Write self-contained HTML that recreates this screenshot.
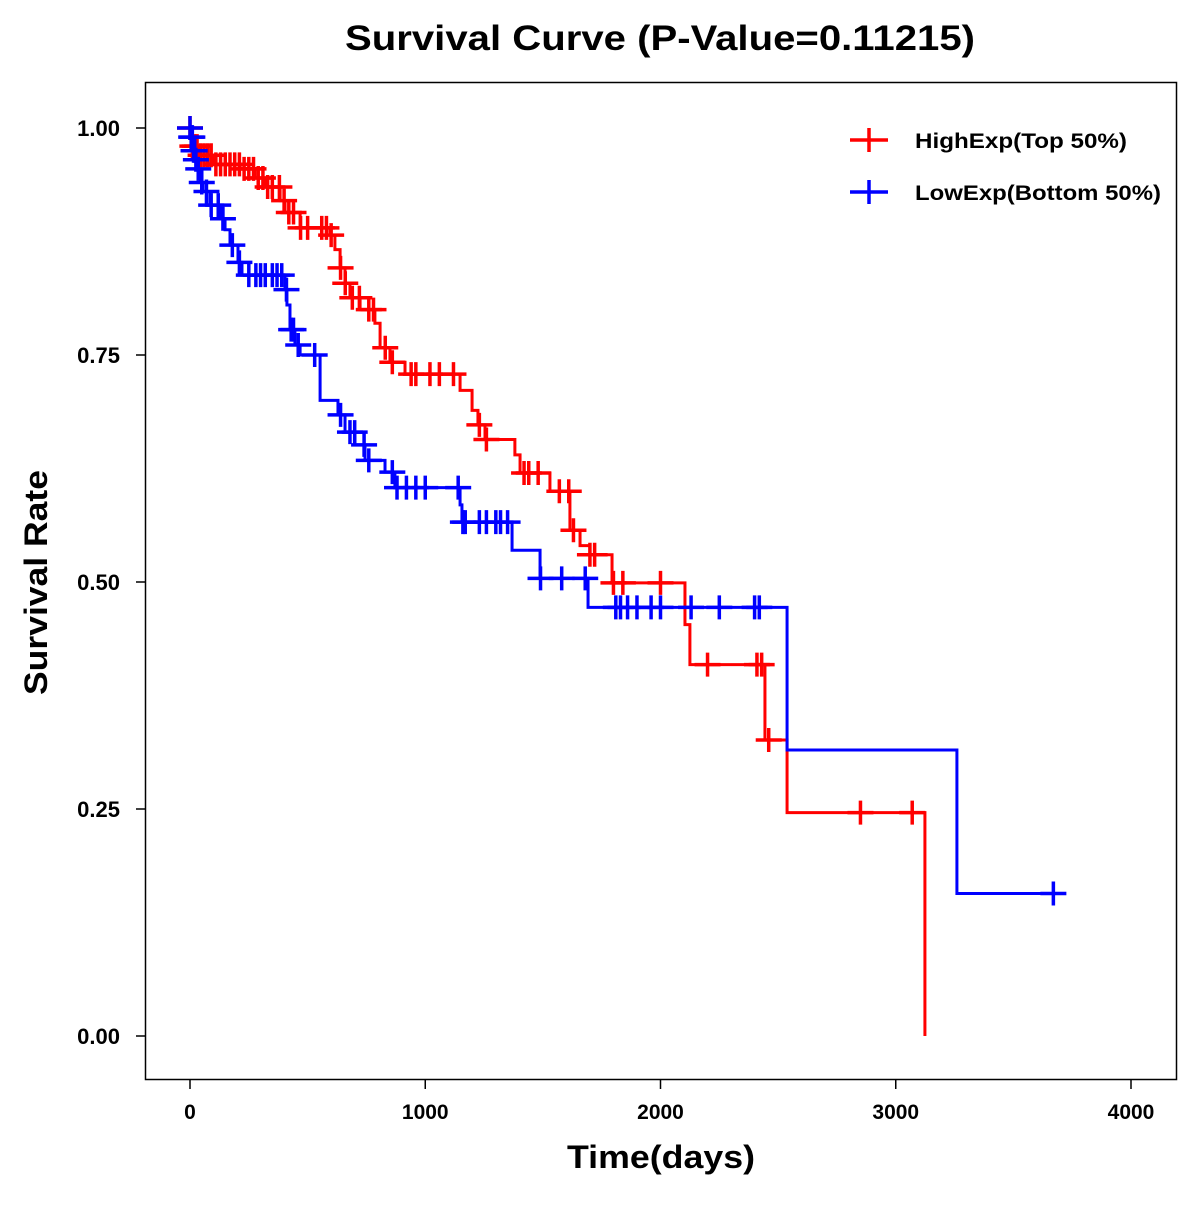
<!DOCTYPE html>
<html><head><meta charset="utf-8"><style>
html,body{margin:0;padding:0;background:#fff;}
svg text{font-family:"Liberation Sans",Arial,sans-serif;font-weight:bold;fill:#000;}
</style></head><body>
<svg id="chart" width="1200" height="1200" xmlns="http://www.w3.org/2000/svg">
<rect width="1200" height="1200" fill="#fff"/>
<text x="345" y="50" font-size="35" textLength="630" lengthAdjust="spacingAndGlyphs">Survival Curve (P-Value=0.11215)</text>
<rect x="145.5" y="82.5" width="1031" height="997" fill="none" stroke="#000" stroke-width="1.5"/>
<g id="axes"></g>
<g id="series"></g>
<text x="567" y="1168" font-size="32" textLength="188" lengthAdjust="spacingAndGlyphs">Time(days)</text>
<text transform="translate(47,695) rotate(-90)" font-size="32" textLength="225" lengthAdjust="spacingAndGlyphs">Survival Rate</text>
<g>
<g>
<line x1="850" y1="140" x2="888" y2="140" stroke="#f00" stroke-width="3.5"/><line x1="869" y1="128" x2="869" y2="152" stroke="#f00" stroke-width="3.5"/>
<text x="915" y="148" font-size="21" textLength="212" lengthAdjust="spacingAndGlyphs">HighExp(Top 50%)</text></g>
<g>
<line x1="850" y1="192" x2="888" y2="192" stroke="#00f" stroke-width="3.5"/><line x1="869" y1="180" x2="869" y2="204" stroke="#00f" stroke-width="3.5"/>
<text x="915" y="200" font-size="21" textLength="246" lengthAdjust="spacingAndGlyphs">LowExp(Bottom 50%)</text></g>
</g>
</svg>
<script>
const xTicks=[0,1000,2000,3000,4000];
const yTicks=[0,0.25,0.5,0.75,1.0];
const yTickLabels=["0.00","0.25","0.50","0.75","1.00"];
const redEventT=[10,40,100,213,276,319,383,404,468,595,616,638,659,680,723,786,808,850,914,1148,1199,1224,1254,1381,1403,1530,1615,1658,1700,1794,2104,2125,2444,2538,3124];
const redEventS=[0.98,0.97,0.96,0.955,0.945,0.935,0.92,0.907,0.89,0.882,0.866,0.846,0.829,0.813,0.80,0.785,0.758,0.742,0.729,0.711,0.689,0.673,0.657,0.64,0.62,0.60,0.557,0.54,0.53,0.499,0.453,0.409,0.326,0.246,0];
const redEnd=3124;
const redCensor=[0,10,20,30,45,60,75,90,110,130,150,170,190,210,230,250,270,290,310,330,350,380,400,420,440,470,500,560,580,600,640,660,690,720,760,780,830,860,940,960,1020,1060,1120,1230,1260,1420,1440,1480,1570,1610,1630,1700,1720,1800,1840,2000,2200,2410,2430,2460,2850,3070];
const blueEventT=[5,15,25,34,45,55,85,128,149,170,204,221,404,412,425,446,468,553,629,659,701,744,829,871,1148,1156,1369,1488,1692,2538,3260];
const blueEventS=[0.99,0.975,0.965,0.955,0.94,0.93,0.915,0.90,0.888,0.871,0.852,0.838,0.822,0.805,0.778,0.761,0.75,0.70,0.684,0.665,0.651,0.634,0.621,0.604,0.585,0.566,0.535,0.504,0.472,0.315,0.157];
const blueEnd=3720;
const blueCensor=[0,5,10,15,20,25,35,50,70,90,120,140,180,210,250,280,300,320,350,370,390,410,430,440,460,530,640,680,700,740,760,860,880,920,960,1000,1140,1160,1170,1230,1260,1300,1320,1350,1490,1580,1680,1810,1830,1860,1900,1960,2000,2130,2250,2400,2420,3670];

const NS="http://www.w3.org/2000/svg";
const X=t=>190+t*0.23525;
const Y=s=>1036-s*908;
function mk(tag,attrs,parent){const e=document.createElementNS(NS,tag);for(const k in attrs)e.setAttribute(k,attrs[k]);parent.appendChild(e);return e;}
const axes=document.getElementById('axes');
xTicks.forEach(t=>{
  const l=mk('line',{x1:X(t),x2:X(t),y1:1080,y2:1089,stroke:'#000','stroke-width':1.5},axes);
  
  
  const tx=mk('text',{x:X(t),y:1119,'text-anchor':'middle','font-size':21},axes);tx.textContent=t;
  
  
});
yTicks.forEach((v,i)=>{
  const l=mk('line',{x1:136,x2:145,y1:Y(v),y2:Y(v),stroke:'#000','stroke-width':1.5},axes);
  
  
  const tx=mk('text',{x:120,y:Y(v)+8,'text-anchor':'end','font-size':22},axes);tx.textContent=yTickLabels[i];
  
  
});
function surv(T,S,t){let s=1;for(let i=0;i<T.length;i++){if(T[i]<=t)s=S[i];}return s;}
const series=document.getElementById('series');
function draw(T,S,end,C,color,name){
  const g=mk('g',{},series);
  
  
  let d='M'+X(0)+','+Y(1);
  for(let i=0;i<T.length;i++){d+=' H'+X(T[i])+' V'+Y(S[i]);}
  d+=' H'+X(end);
  const p=mk('path',{d:d,fill:'none',stroke:color,'stroke-width':3},g);
  
  
  C.forEach(t=>{
    const cx=X(t),cy=Y(surv(T,S,t));
    const m=mk('path',{d:'M'+(cx-13)+','+cy+' H'+(cx+13)+' M'+cx+','+(cy-12)+' V'+(cy+12),stroke:color,'stroke-width':3.5,fill:'none'},g);
    
    
  });
}
draw(redEventT,redEventS,redEnd,redCensor,'#f00','high-exp-curve');
draw(blueEventT,blueEventS,blueEnd,blueCensor,'#00f','low-exp-curve');
</script>
</body></html>
